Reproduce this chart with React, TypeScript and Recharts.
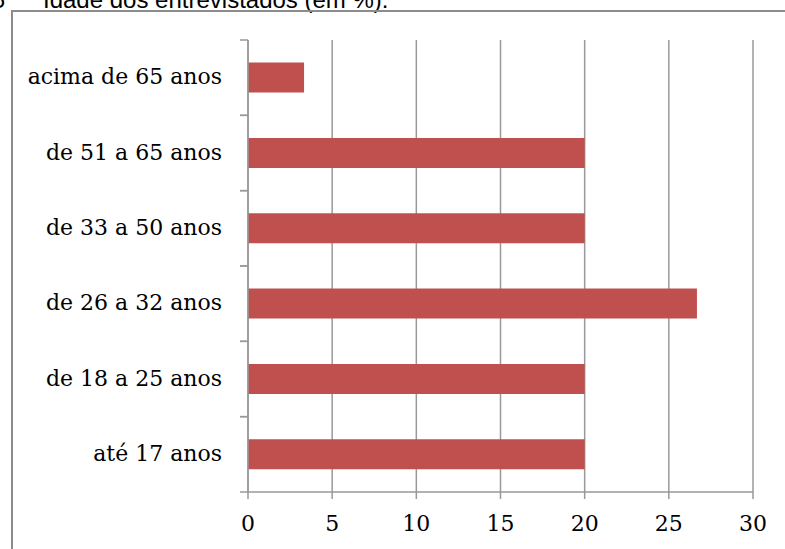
import React from 'react';
import { BarChart, Bar, XAxis, YAxis, CartesianGrid } from 'recharts';

// age groups, bottom to top, and share of respondents (%)
const faixas = ['até 17 anos', 'de 18 a 25 anos', 'de 26 a 32 anos', 'de 33 a 50 anos', 'de 51 a 65 anos', 'acima de 65 anos'];
const percentuais = [20, 20, 26.67, 20, 20, 3.33];
const ticksX = [0, 5, 10, 15, 20, 25, 30];

const data = faixas.map((faixa, i) => ({ faixa, valor: percentuais[i] }));

const GREY = '#999999';
const SERIF = '"DejaVu Serif", serif';
const SANS = '"Liberation Sans", Arial, sans-serif';
const TICK_LEN = 8;
const TICK_GAP = 18;

// category label plus the short boundary ticks Excel draws between categories
const CategoryTick = (props: any) => {
  const { x, y, payload } = props;
  const half = payload?.offset ?? 37.67;
  const x2 = x + TICK_GAP + TICK_LEN;
  const x1 = x + TICK_GAP;
  return (
    <g>
      <line x1={x1} x2={x2} y1={y - half} y2={y - half} stroke={GREY} strokeWidth={1.5} />
      <line x1={x1} x2={x2} y1={y + half} y2={y + half} stroke={GREY} strokeWidth={1.5} />
      <text x={x} y={y} dy="0.3em" textAnchor="end" fill="#000" fontFamily={SERIF} fontSize={22}>
        {payload.value}
      </text>
    </g>
  );
};

const App = () => {
  return (
    <div style={{ position: 'fixed', left: 0, top: 0, width: 785, height: 549, overflow: 'hidden', background: '#fff' }}>
      {/* page heading and the frame around the chart object */}
      <svg width={785} height={549} style={{ position: 'absolute', left: 0, top: 0 }}>
        <text x={5} y={8} textAnchor="end" fontFamily={SANS} fontSize={24} fill="#000">5</text>
        <text x={43} y={8} fontFamily={SANS} fontSize={24} fill="#000">
          Idade dos entrevistados (em %).
        </text>
        <path d="M12,560 L12,11 L800,11" fill="none" stroke="#8c8c8c" strokeWidth={2} />
      </svg>
      <div style={{ position: 'absolute', left: 0, top: 0 }}>
        <BarChart
          width={785}
          height={549}
          data={data}
          layout="vertical"
          margin={{ top: 40, right: 32, bottom: 0, left: 0 }}
          barCategoryGap="30%"
        >
          <CartesianGrid horizontal={false} stroke={GREY} strokeWidth={1.5} />
          <XAxis
            type="number"
            domain={[0, 30]}
            ticks={ticksX}
            height={57}
            tickSize={7}
            tickMargin={16}
            stroke={GREY}
            strokeWidth={1.5}
            tick={{ fill: '#000', fontFamily: SERIF, fontSize: 22 }}
          />
          <YAxis
            type="category"
            dataKey="faixa"
            reversed
            width={248}
            tickSize={TICK_LEN}
            tickMargin={TICK_GAP}
            tickLine={false}
            stroke={GREY}
            strokeWidth={1.5}
            tick={<CategoryTick />}
          />
          <Bar dataKey="valor" fill="#C0504D" isAnimationActive={false} />
        </BarChart>
      </div>
    </div>
  );
};

export default App;
